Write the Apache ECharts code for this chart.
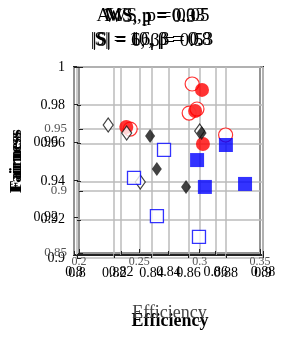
<!DOCTYPE html>
<html><head><meta charset="utf-8">
<script src="https://cdn.jsdelivr.net/npm/echarts@6/dist/echarts.min.js"></script>
<style>html,body{margin:0;padding:0;background:#fff}#c{width:287px;height:339px}</style>
</head><body><div id="c"></div>
<script>
// Chart A (circles): x 0.8-0.9, y 0.9-1.0
var circleFilled = [[0.8672,0.988],[0.8635,0.977],[0.8265,0.9686],[0.8677,0.9597]];
var circleHollow = [[0.8619,0.9911],[0.8603,0.9759],[0.8645,0.978],[0.8286,0.9675],[0.8799,0.9644]];
// Chart B (diamonds): x 0.2-0.35, y 0.85-1.0
var diamondHollow = [[0.2242,0.9532],[0.2395,0.9468],[0.3,0.9484],[0.2508,0.9073]];
var diamondFilled = [[0.2589,0.9444],[0.2645,0.9177],[0.2887,0.9032],[0.3016,0.9468]];
// Chart C (squares): x 0.8-0.88, y 0.9-1.0
var squareFilled = [[0.8521,0.9505],[0.8554,0.9362],[0.8724,0.9378],[0.8643,0.9585]];
var squareHollow = [[0.8381,0.9559],[0.8254,0.941],[0.8351,0.9207],[0.8529,0.9096]];

var titlesLine1 = ['AWS, p = 0.05','WS, p = 0.3','MS, p = 0.03'];
var titlesLine2 = ['|S| = 10, β = 0.8','|S| = 6, β = 0.5','|S| = 16, β = 0.3'];

var serif = '"Liberation Serif", "DejaVu Serif", serif';
var chart = echarts.init(document.getElementById('c'), null, {renderer:'canvas'});
var gridLine = {show:true, lineStyle:{color:'#bbb', width:1.5}};
var tick = {show:true, inside:true, length:4, lineStyle:{color:'#222'}};
var graphics = [];
var offs = [[0,0],[-3,1],[2,0]];
titlesLine1.forEach(function(t,i){
  graphics.push({type:'text', x:153+offs[i][0], y:16+offs[i][1], style:{text:t, font:'19px '+serif, textAlign:'center', textVerticalAlign:'middle', fill:'#000'}});
});
titlesLine2.forEach(function(t,i){
  graphics.push({type:'text', x:151+offs[i][0], y:40+offs[i][1], style:{text:t, font:'19px '+serif, textAlign:'center', textVerticalAlign:'middle', fill:'#000'}});
});
chart.setOption({
  animation:false,
  graphic: graphics,
  grid:[
    {left:74, right:24, top:67, bottom:81, show:false},
    {left:74, right:27, top:67, bottom:86, show:true, borderColor:'#222', borderWidth:2},
    {left:74, right:24, top:67, bottom:84, show:true, borderColor:'#222', borderWidth:2}
  ],
  xAxis:[
    {gridIndex:0, type:'value', min:0.8, max:0.9, interval:0.02, splitLine:gridLine, axisLine:{show:false}, axisTick:tick,
     axisLabel:{fontFamily:serif, fontSize:14, color:'#000', margin:8}, name:'Efficiency', nameLocation:'middle', nameGap:54, nameTextStyle:{fontFamily:serif, fontSize:18, fontWeight:'bold', color:'#000'}},
    {gridIndex:1, type:'value', min:0.2, max:0.35, interval:0.05, splitLine:gridLine, axisLine:{show:false}, axisTick:tick,
     axisLabel:{fontFamily:serif, fontSize:12, color:'#555', margin:3}, name:'Efficiency', nameLocation:'middle', nameGap:51, nameTextStyle:{fontFamily:serif, fontSize:18, color:'#444'}},
    {gridIndex:2, type:'value', min:0.8, max:0.88, interval:0.02, splitLine:gridLine, axisLine:{show:false}, axisTick:tick,
     axisLabel:{fontFamily:serif, fontSize:14, color:'#000', margin:10}}
  ],
  yAxis:[
    {gridIndex:0, type:'value', min:0.9, max:1.0, interval:0.02, splitLine:gridLine, axisLine:{show:false}, axisTick:tick,
     axisLabel:{fontFamily:serif, fontSize:14, color:'#000', margin:12, formatter:function(v){return +v.toFixed(2)+'';}},
     name:'Fairness', nameLocation:'middle', nameGap:52, nameTextStyle:{fontFamily:serif, fontSize:17, fontWeight:'bold', color:'#000'}},
    {gridIndex:1, type:'value', min:0.85, max:1.0, interval:0.05, splitLine:gridLine, axisLine:{show:false}, axisTick:tick,
     axisLabel:{fontFamily:serif, fontSize:13, color:'#555', margin:12, formatter:function(v){return v===1?'':+v.toFixed(2)+'';}},
     name:'Fairness', nameLocation:'middle', nameGap:54, nameTextStyle:{fontFamily:serif, fontSize:17, fontWeight:'bold', color:'#000'}},
    {gridIndex:2, type:'value', min:0.9, max:1.0, interval:0.02, splitLine:{show:false}, axisLine:{show:false}, axisTick:tick,
     axisLabel:{fontFamily:serif, fontSize:14, color:'#000', margin:16, formatter:function(v){v=+v.toFixed(2);return (v===0.96||v===0.92)?v+'':'';}}}
  ],
  series:[
    {type:'scatter', xAxisIndex:0, yAxisIndex:0, data:circleHollow, symbol:'circle', symbolSize:14, itemStyle:{color:'#fff', borderColor:'#f00', borderWidth:1.2}},
    {type:'scatter', xAxisIndex:0, yAxisIndex:0, data:circleFilled, symbol:'circle', symbolSize:14, itemStyle:{color:'#f00'}},
    {type:'scatter', xAxisIndex:1, yAxisIndex:1, data:diamondHollow, symbol:'diamond', symbolSize:[10,14], itemStyle:{color:'#fff', borderColor:'#111', borderWidth:1.2}},
    {type:'scatter', xAxisIndex:1, yAxisIndex:1, data:diamondFilled, symbol:'diamond', symbolSize:[10,14], itemStyle:{color:'#111'}},
    {type:'scatter', xAxisIndex:2, yAxisIndex:2, data:squareHollow, symbol:'rect', symbolSize:13, itemStyle:{color:'#fff', borderColor:'#00f', borderWidth:1.3}},
    {type:'scatter', xAxisIndex:2, yAxisIndex:2, data:squareFilled, symbol:'rect', symbolSize:14, itemStyle:{color:'#00f'}}
  ]
});
</script></body></html>
